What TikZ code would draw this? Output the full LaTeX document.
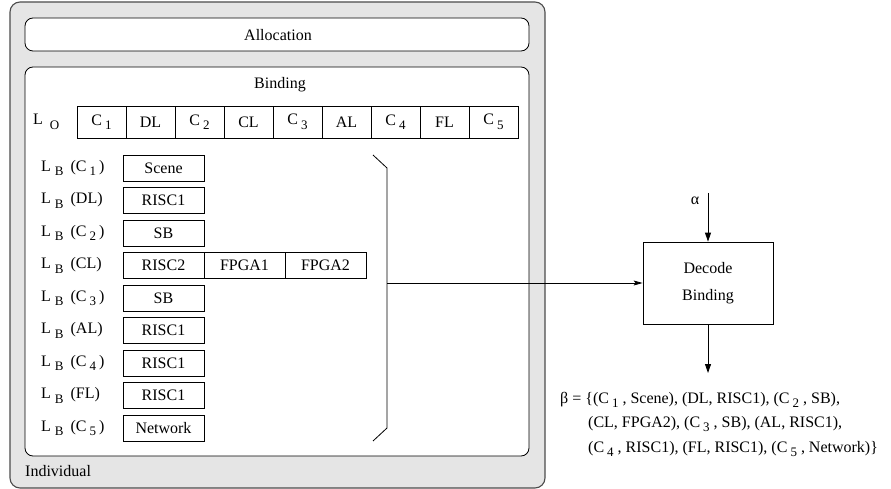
\documentclass[tikz,border=0pt]{standalone}
\usepackage{fontspec}
\setmainfont{Liberation Serif}
\newfontfamily\timesfont{Liberation Serif}
\usetikzlibrary{arrows.meta}
% lowered subscript as used in the labels
\newcommand{\lowsub}[1]{\kern3pt\raisebox{-4.5pt}{\fontsize{13}{13}\selectfont #1}}
\begin{document}
\begin{tikzpicture}[x=1pt,y=-1pt,
  every node/.style={font=\timesfont\fontsize{16}{19}\selectfont, inner sep=0pt},
  cell/.style={draw, line width=0.8pt, minimum width=49pt, minimum height=32pt},
  resbox/.style={draw, line width=0.8pt, minimum width=81pt, minimum height=26pt},
  rowlabel/.style={anchor=west},
  conn/.style={line width=0.8pt},
  vtip/.style={-{Triangle[length=9pt,width=6pt]}},
  htip/.style={-{Stealth[length=9pt,width=5pt,inset=2pt]}}]
\useasboundingbox (0,0) rectangle (891,489);

% containers
\draw[draw=black!70, line width=1.1pt, fill=black!10, rounded corners=10pt] (10,2) rectangle (545,488);
\draw[line width=0.8pt, fill=white, rounded corners=8pt] (25,18) rectangle (529,51);
\draw[line width=0.8pt, fill=white, rounded corners=8pt] (25,67) rectangle (529,456);
\node (alloc) at (278,35) {Allocation};
\node (bind) at (280,85) {Binding};
\node[anchor=west] (indiv) at (25,471) {Individual};

% ordering list L_O
\node[rowlabel] (lo) at (33,122) {L\kern4pt\lowsub{O}};
\foreach \t [count=\i from 0] in {C\lowsub{1},DL,C\lowsub{2},CL,C\lowsub{3},AL,C\lowsub{4},FL,C\lowsub{5}}
  \node[cell] (o\i) at ({77+49*(\i+0.5)},122) {\t};

% binding lists L_B
\foreach \lab/\res [count=\i from 0] in {
  C\lowsub{1}\kern3pt/Scene, DL/RISC1, C\lowsub{2}\kern3pt/SB, CL/RISC2, C\lowsub{3}\kern3pt/SB,
  AL/RISC1, C\lowsub{4}\kern3pt/RISC1, FL/RISC1, C\lowsub{5}\kern3pt/Network} {
  \node[rowlabel] (lb\i) at (41,{168+32.5*\i}) {L\kern1pt\lowsub{B}\kern7pt(\lab)};
  \node[resbox] (r\i) at (163.5,{168+32.5*\i}) {\res};
}
\node[resbox] (r3b) at (244.5,265.5) {FPGA1};
\node[resbox] (r3c) at (325.5,265.5) {FPGA2};

% closing bracket
\coordinate (brA) at (373,155);
\coordinate (brB) at (387,168);
\coordinate (brC) at (387,428);
\coordinate (brD) at (373,441);
\coordinate (brM) at (387,283);
\draw[conn] (brA) -- (brB) -- (brC) -- (brD);

% decoder
\node[draw, line width=0.8pt, minimum width=130pt, minimum height=82pt, align=center,
      font=\timesfont\fontsize{16}{27}\selectfont] (dec) at (708,283) {Decode\\Binding};
\draw[conn, htip] (brM) -- (dec.west);

\coordinate (ain) at (708,193);
\node (alpha) at (695,201) {α};
\draw[conn, vtip] (ain) -- (dec.north);

\coordinate (bout) at (708,373);
\draw[conn, vtip] (dec.south) -- (bout);

\node[anchor=base west] (b1) at (560,403) {β = \{(C\lowsub{1} , Scene), (DL, RISC1), (C\lowsub{2} , SB),};
\node[anchor=base west] (b2) at (588,427) {(CL, FPGA2), (C\lowsub{3} , SB), (AL, RISC1),};
\node[anchor=base west] (b3) at (588,452) {(C\lowsub{4} , RISC1), (FL, RISC1), (C\lowsub{5} , Network)\}};
\end{tikzpicture}
\end{document}
